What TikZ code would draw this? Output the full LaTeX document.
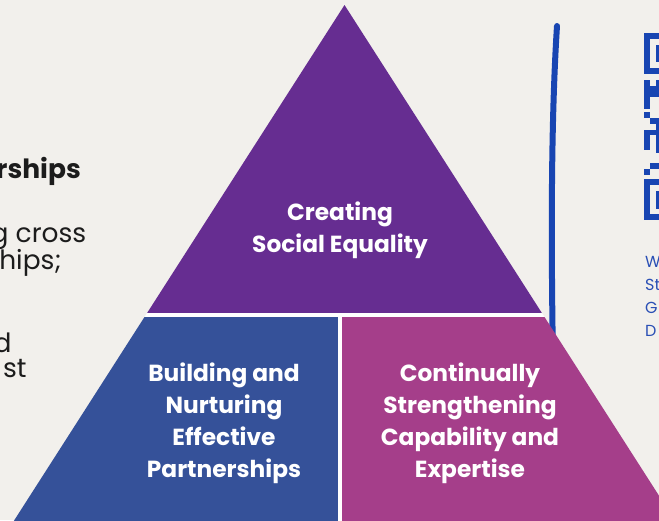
\documentclass[tikz,border=0pt]{standalone}
\usepackage{fontspec}
\setmainfont{Poppins}
\definecolor{bg}{HTML}{F2F0EC}
\definecolor{ptop}{HTML}{662D91}
\definecolor{pleft}{HTML}{355199}
\definecolor{pright}{HTML}{A53E8A}
\definecolor{inkblue}{HTML}{1845B2}
\definecolor{qrblue}{HTML}{2A4FB5}
\definecolor{ink}{HTML}{1C1C1C}
\tikzset{
  lbl/.style={anchor=base, text=white, font=\fontsize{23.3}{27}\selectfont\bfseries, inner sep=0pt},
  body/.style={anchor=base east, text=ink, font=\fontsize{26.5}{30}\selectfont, inner sep=0pt},
  side/.style={anchor=base west, text=qrblue, font=\fontsize{16}{19}\selectfont, inner sep=0pt},
  qrmod/.style={fill=inkblue}
}
\begin{document}
\begin{tikzpicture}[x=1pt,y=-1pt]
\useasboundingbox (0,0) rectangle (659,520);
\clip (0,0) rectangle (659,520);
\fill[bg] (0,0) rectangle (659,520);

% hand-drawn blue line (behind pyramid)
\draw[inkblue, line width=6pt, line cap=round] (557,26) .. controls (551,120) and (551,240) .. (553,360);

% pyramid pieces
\fill[ptop] (344.5,5) -- (147.1,313) -- (541.9,313) -- cycle;
\fill[white] (147.1,313) -- (541.9,313) -- (544.5,317) -- (144.5,317) -- cycle;
\fill[pleft] (144.5,317) -- (338,317) -- (338,540) -- (1.6,540) -- cycle;
\fill[white] (338,317) rectangle (342,540);
\fill[pright] (342,317) -- (544.5,317) -- (687.4,540) -- (342,540) -- cycle;

% pyramid labels
\node[lbl] (t1) at (340,220) {Creating};
\node[lbl] (t2) at (340,252) {Social Equality};
\node[lbl] (l1) at (224,381) {Building and};
\node[lbl] (l2) at (224,413) {Nurturing};
\node[lbl] (l3) at (224,445) {Effective};
\node[lbl] (l4) at (224,477) {Partnerships};
\node[lbl] (r1) at (470,381) {Continually};
\node[lbl] (r2) at (470,413) {Strengthening};
\node[lbl] (r3) at (470,445) {Capability and};
\node[lbl] (r4) at (470,477) {Expertise};

% left text (cut at the picture edge)
\node[body, font=\fontsize{26.5}{30}\selectfont\bfseries] (b1) at (81,178) {rships};
\node[body] (b2) at (86.5,242) {g cross};
\node[body] (b3) at (61.7,269) {hips;};
\node[body] (b4) at (11.7,352) {d};
\node[body] (b5) at (26.7,377) {st};

% QR code (cut at the right edge)
\begin{scope}[shift={(644,33)}, x=5.85pt, y=-5.85pt]
  % top finder
  \fill[qrmod] (0,0) rectangle (3,1);
  \fill[qrmod] (0,6) rectangle (3,7);
  \fill[qrmod] (0,0) rectangle (1,7);
  \fill[qrmod] (2,2) rectangle (3,5);
  % middle modules
  \fill[qrmod] (0,8) rectangle (1,13);
  \fill[qrmod] (2,8) rectangle (3,9);
  \fill[qrmod] (1,9) rectangle (3,11);
  \fill[qrmod] (0,13.5) rectangle (1,14.5);
  \fill[qrmod] (1,14.5) rectangle (3,15.5);
  \fill[qrmod] (2,15.5) rectangle (3,16.5);
  \fill[qrmod] (0,16.5) rectangle (3,17.5);
  \fill[qrmod] (0,17.5) rectangle (1,20);
  \fill[qrmod] (2,17.5) rectangle (3,20.5);
  \fill[qrmod] (1,22.2) rectangle (3,23.2);
  \fill[qrmod] (0,23.2) rectangle (1,24.2);
  % bottom finder
  \fill[qrmod] (0,25) rectangle (3,26);
  \fill[qrmod] (0,31) rectangle (3,32);
  \fill[qrmod] (0,25) rectangle (1,32);
  \fill[qrmod] (2,27) rectangle (3,30);
\end{scope}

% side text (cut at the right edge)
\node[side] (s1) at (645,267.3) {W};
\node[side] (s2) at (645,290) {St};
\node[side] (s3) at (645,313.3) {G};
\node[side] (s4) at (645,336.7) {D};
\end{tikzpicture}
\end{document}
